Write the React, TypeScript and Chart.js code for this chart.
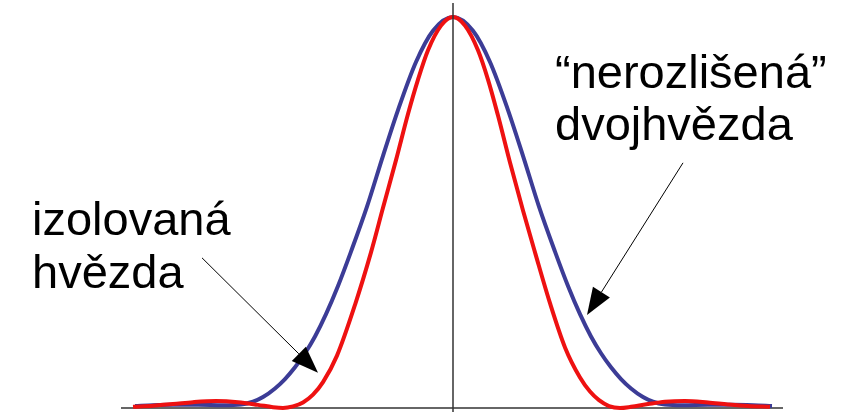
import React, { useEffect, useRef } from "react";
import { Chart, registerables } from "chart.js";

Chart.register(...registerables);

// position (relative to centre) and normalised intensity
const redX = [-320, -300, -280, -260, -237, -215, -195, -180, -170, -160, -150, -140, -130, -116, -98, -82, -70, -57, -45, -35, -25, -12, 0, 12, 25, 35, 45, 57, 70, 82, 97, 112, 127, 137, 146, 156, 167, 178, 195, 212, 232, 255, 275, 295, 317];
const redY = [0.003, 0.006, 0.010, 0.015, 0.018, 0.015, 0.008, 0.002, 0.0, 0.004, 0.014, 0.034, 0.066, 0.134, 0.264, 0.398, 0.512, 0.634, 0.752, 0.84, 0.915, 0.978, 1.0, 0.978, 0.915, 0.84, 0.748, 0.628, 0.505, 0.398, 0.268, 0.155, 0.078, 0.042, 0.020, 0.005, 0.0, 0.003, 0.010, 0.016, 0.018, 0.014, 0.009, 0.005, 0.003];

const blueX = [-318, -300, -280, -255, -230, -212, -200, -190, -178, -168, -158, -148, -138, -127, -115, -102, -86, -70, -55, -37, -20, 0, 20, 37, 55, 70, 86, 102, 115, 127, 138, 148, 158, 168, 178, 190, 200, 212, 230, 255, 280, 300, 319];
const blueY = [0.005, 0.007, 0.008, 0.008, 0.007, 0.009, 0.016, 0.028, 0.050, 0.074, 0.104, 0.140, 0.183, 0.240, 0.312, 0.400, 0.515, 0.645, 0.762, 0.885, 0.965, 1.0, 0.965, 0.885, 0.762, 0.645, 0.515, 0.400, 0.312, 0.240, 0.183, 0.140, 0.104, 0.074, 0.050, 0.028, 0.016, 0.009, 0.007, 0.008, 0.008, 0.007, 0.005];

const leftLabel = ["izolovaná", "hvězda"];
const rightLabel = ["\u201Cnerozlišená\u201D", "dvojhvězda"];

const RED = "#ee1111";
const BLUE = "#3c3c96";

export default function App() {
  const ref = useRef<HTMLCanvasElement | null>(null);

  useEffect(() => {
    if (!ref.current) return;

    const annot = {
      id: "annot",
      beforeDatasetsDraw(chart: any) {
        const { ctx, chartArea, scales } = chart;
        const y0 = scales.y.getPixelForValue(0);
        ctx.save();
        ctx.strokeStyle = "#333";
        ctx.lineWidth = 1.5;
        ctx.beginPath();
        ctx.moveTo(chartArea.left, y0);
        ctx.lineTo(chartArea.right, y0);
        ctx.stroke();
        ctx.restore();
      },
      afterDatasetsDraw(chart: any) {
        const { ctx, scales } = chart;
        const xs = scales.x;
        const ys = scales.y;
        const px = (v: number) => xs.getPixelForValue(v);
        const py = (v: number) => ys.getPixelForValue(v);
        ctx.save();
        // vertical axis
        ctx.strokeStyle = "#333";
        ctx.lineWidth = 1.5;
        ctx.beginPath();
        ctx.moveTo(px(0), 3);
        ctx.lineTo(px(0), chart.height);
        ctx.stroke();

        // labels
        ctx.fillStyle = "#000";
        ctx.font = "47px 'Liberation Sans', Arial, sans-serif";
        ctx.textBaseline = "alphabetic";
        ctx.textAlign = "left";
        ctx.fillText(leftLabel[0], px(-421), py(0.442));
        ctx.fillText(leftLabel[1], px(-421), py(0.307));
        ctx.fillText(rightLabel[0], px(102), py(0.818));
        ctx.fillText(rightLabel[1], px(102), py(0.685));

        const arrow = (x1: number, y1: number, x2: number, y2: number) => {
          const ax = px(x1), ay = py(y1), bx = px(x2), by = py(y2);
          const ang = Math.atan2(by - ay, bx - ax);
          const len = 27, hw = 10;
          const cx = bx - len * Math.cos(ang), cy = by - len * Math.sin(ang);
          ctx.strokeStyle = "#000";
          ctx.lineWidth = 1;
          ctx.beginPath();
          ctx.moveTo(ax, ay);
          ctx.lineTo(cx, cy);
          ctx.stroke();
          ctx.fillStyle = "#000";
          ctx.beginPath();
          ctx.moveTo(bx, by);
          ctx.lineTo(cx + hw * Math.sin(ang), cy - hw * Math.cos(ang));
          ctx.lineTo(cx - hw * Math.sin(ang), cy + hw * Math.cos(ang));
          ctx.closePath();
          ctx.fill();
        };
        arrow(-251, 0.384, -135, 0.09);
        arrow(230, 0.627, 134, 0.238);
        ctx.restore();
      },
    };

    const chart = new Chart(ref.current, {
      type: "line",
      data: {
        datasets: [
          {
            label: "izolovaná hvězda",
            data: redX.map((x, i) => ({ x, y: redY[i] })),
            borderColor: RED,
            borderWidth: 4,
            pointRadius: 0,
            cubicInterpolationMode: "monotone",
            fill: false,
            clip: false as any,
          },
          {
            label: "nerozlišená dvojhvězda",
            data: blueX.map((x, i) => ({ x, y: blueY[i] })),
            borderColor: BLUE,
            borderWidth: 4,
            pointRadius: 0,
            cubicInterpolationMode: "monotone",
            fill: false,
            clip: false as any,
          },
        ],
      },
      options: {
        responsive: false,
        animation: false,
        layout: { padding: { left: 121, right: 58, top: 17, bottom: 4 } },
        plugins: { legend: { display: false }, tooltip: { enabled: false } },
        scales: {
          x: { type: "linear", min: -332, max: 330, display: false },
          y: { type: "linear", min: 0, max: 1, display: false },
        },
      },
      plugins: [annot],
    });
    return () => chart.destroy();
  }, []);

  return (
    <div style={{ position: "fixed", left: 0, top: 0, width: 841, height: 412, background: "#fff" }}>
      <canvas ref={ref} width={841} height={412} />
    </div>
  );
}
